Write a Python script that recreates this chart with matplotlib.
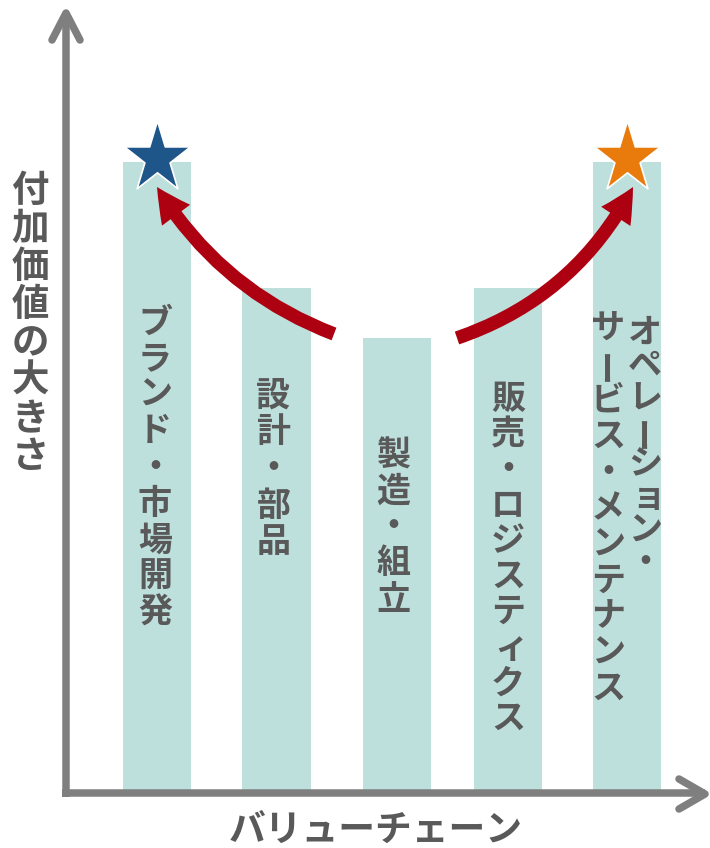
import matplotlib
matplotlib.use("Agg")
import matplotlib.pyplot as plt
from matplotlib.patches import FancyArrowPatch, ArrowStyle
from matplotlib.path import Path

plt.rcParams['font.family'] = ['Noto Sans CJK JP', 'DejaVu Sans']

# data
stages = ["ブランド・市場開発", "設計・部品", "製造・組立",
          "販売・ロジスティクス", "オペレーション・\nサービス・メンテナンス"]
values = [100, 80, 72, 80, 100]
x_label = "バリューチェーン"
y_label = "付加価値の大きさ"

# layout, in pixels of the 710x848 canvas
W, H = 710, 848
PX_X, PX_Y = 119.5, 6.28          # pixels per x unit / per value unit
X0, Y0 = 157, 790                 # pixel of x=0 / value 0
bar_x = [0, 1, 2.005, 2.937, 3.933]
bar_w = 0.57
# per bar, per column (right column first): x offset, first char y, step
text_cols = [
    [(-2, 322, 36.3)],
    [(-3, 395, 36.7)],
    [(-3, 455, 36.0)],
    [(0, 398, 35.6)],
    [(18, 332, 33.0), (-19, 328, 36.0)],
]

BAR_C = "#bee0dd"
TXT_C = "#595959"
AX_C = "#7f7f7f"
RED = "#ad0011"
STAR_C = {0: "#1f5689", 4: "#e97a0c"}


def px2x(px):
    return (px - X0) / PX_X


def px2y(py):
    return (Y0 - py) / PX_Y


fig = plt.figure(figsize=(W / 100, H / 100), dpi=100)
ax = fig.add_axes([0, 0, 1, 1])
ax.set_xlim(px2x(0), px2x(W))
ax.set_ylim(px2y(H), px2y(0))
ax.axis("off")

ax.bar(bar_x, values, width=bar_w, color=BAR_C, zorder=1)

# vertical text inside the bars
small = "ャュョッァィゥェォ"
for i, label in enumerate(stages):
    for col, (dx, y0, step) in zip(label.split("\n"), text_cols[i]):
        for k, ch in enumerate(col):
            px = X0 + bar_x[i] * PX_X + dx
            py = y0 + k * step
            if ch in small:
                px += 3
            ax.text(px2x(px), px2y(py), ch, ha="center", va="center",
                    fontsize=24.5, fontweight="bold", color=TXT_C,
                    rotation=90 if ch == "ー" else 0, zorder=3)

# axis arrows
lw = 5.4
ax.plot([px2x(66), px2x(66)], [px2y(797), px2y(13)], color=AX_C, lw=lw,
        solid_capstyle="butt", zorder=4)
ax.plot([px2x(52), px2x(66), px2x(80)], [px2y(40), px2y(13), px2y(40)],
        color=AX_C, lw=lw, solid_capstyle="round", solid_joinstyle="round", zorder=4)
ax.plot([px2x(62), px2x(705)], [px2y(793), px2y(793)], color=AX_C, lw=lw,
        solid_capstyle="butt", zorder=4)
ax.plot([px2x(679), px2x(705), px2x(679)], [px2y(779), px2y(794), px2y(809)],
        color=AX_C, lw=lw, solid_capstyle="round", solid_joinstyle="round", zorder=4)

# axis titles
ax.text(px2x(376), px2y(830), x_label, ha="center", va="center",
        fontsize=26.5, fontweight="bold", color=TXT_C)
for k, ch in enumerate(y_label):
    ax.text(px2x(30), px2y(190 + k * 38.1), ch, ha="center", va="center",
            fontsize=27, fontweight="bold", color=TXT_C)

# curved red arrows from the middle towards both ends
style = ArrowStyle.Simple(head_length=2.45, head_width=2.52, tail_width=0.97)
arrows = [((334, 334), (157, 187), -0.17), ((457, 338), (633, 187), 0.2)]
for (ta, tb), (ha_, hb), rad in arrows:
    arr = FancyArrowPatch((px2x(ta), px2y(tb)), (px2x(ha_), px2y(hb)),
                          connectionstyle=f"arc3,rad={rad}", arrowstyle=style,
                          mutation_scale=10, color=RED, lw=0,
                          shrinkA=0, shrinkB=0, zorder=5)
    ax.add_patch(arr)

# stars on top of the two tall bars
star = Path.unit_regular_star(5, 0.381966)
star = Path(star.vertices * [1, 1.08], star.codes)
for i, col in STAR_C.items():
    ax.plot(bar_x[i], values[i] + 0.6, marker=star, markersize=54,
            color=col, markeredgecolor="white", markeredgewidth=1.2, zorder=6)

fig.savefig("out.png", dpi=100)
